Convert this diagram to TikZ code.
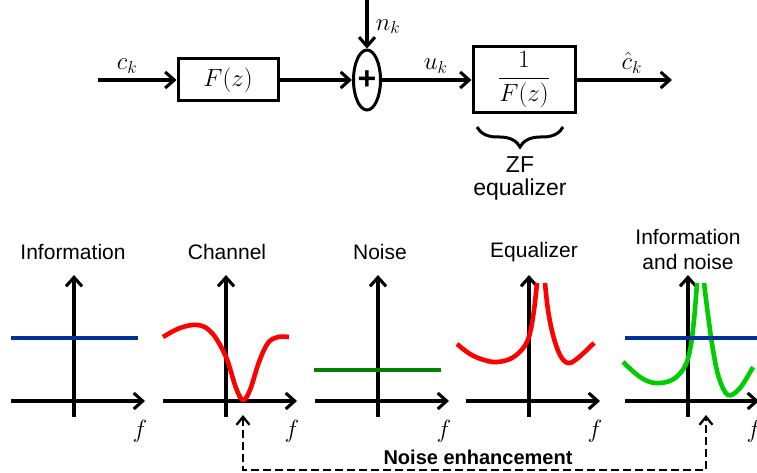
\documentclass[tikz,border=0pt]{standalone}
\usepackage{fontspec}
\setmainfont{Liberation Sans}
\usetikzlibrary{arrows.meta,shapes.geometric,decorations.pathreplacing}
\definecolor{infoblue}{RGB}{0,51,153}
\definecolor{noisegreen}{RGB}{0,128,0}
\definecolor{sumgreen}{RGB}{0,205,0}

\begin{document}
\begin{tikzpicture}[x=1pt,y=-1pt,font=\fontsize{21}{25}\selectfont,
  blk/.style={draw,line width=3pt,minimum width=100pt,minimum height=42pt,inner sep=0pt},
  mlab/.style={font=\fontsize{25}{28}\selectfont},
  arr/.style={-{Straight Barb[length=9pt,width=16pt]},line width=3.1pt},
  crv/.style={line width=4.6pt,smooth,tension=0.6}]
\useasboundingbox (0,0) rectangle (757,473);
% top chain
\node[blk,mlab] (chan) at (228,80) {$F(z)$};
\node[draw,ellipse,line width=3pt,minimum width=27pt,minimum height=60pt,inner sep=0pt,
  font=\fontsize{32}{32}\selectfont\bfseries] (sum) at (367,80) {+};
\node[blk,mlab,minimum width=102pt,minimum height=66pt] (zf) at (524,80) {$\displaystyle\frac{1}{F(z)}$};
\coordinate (cin) at (98,80);
\coordinate (nin) at (367,0);
\coordinate (cout) at (672,80);
\draw[arr] (cin) -- node[mlab,pos=0.37,above=2pt] (ck) {$c_k$} (chan);
\draw[arr] (chan) -- (sum);
\draw[arr] (nin) -- node[mlab,pos=0.55,right=4pt] (nk) {$n_k$} (sum);
\draw[arr] (sum) -- node[mlab,pos=0.6,above=2pt] (uk) {$u_k$} (zf);
\draw[arr] (zf) -- node[mlab,pos=0.58,above=2pt] (chat) {$\hat{c}_k$} (cout);
\draw[line width=3pt,decorate,decoration={brace,mirror,amplitude=20pt}] (477,127) -- (563,127);
\node[align=center,font=\fontsize{23}{23}\selectfont] (zflab) at (520,178) {ZF\\equalizer};
% spectra
\foreach \px/\tx/\ty/\ttl [count=\i] in {74/73/252/Information,226/227/252/Channel,
    378/380/252/Noise,529/534/252/Equalizer,688/688/249/{Information\\and noise}}{
  \draw[arr] (\px-63,401) -- (\px+71,401);
  \draw[arr] (\px,417) -- (\px,275);
  \node[mlab] (f\i) at (\px+66,431) {$f$};
  \node[align=center] (title\i) at (\tx,\ty) {\ttl};
}
\draw[infoblue,line width=4.2pt] (11,338) -- (138,338);
\draw[red,crv] plot coordinates {(163,337) (180,328) (198,325) (212,333) (226,357)
  (236,388) (243,400) (250,390) (259,362) (268,343) (278,337) (289,337)};
\draw[noisegreen,line width=3.4pt] (314,370) -- (441,370);
\draw[red,crv] plot coordinates {(457,344) (470,354) (484,360) (497,362) (512,358)
  (524,347) (530,333) (534,310) (537,283)};
\draw[red,crv] plot coordinates {(545,283) (548,310) (553,335) (560,355) (568,363)
  (578,358) (594,343)};
\draw[sumgreen,crv] plot coordinates {(623,362) (640,377) (655,383) (672,380) (684,368)
  (690,350) (694,320) (697,283)};
\draw[sumgreen,crv] plot coordinates {(704,283) (708,315) (713,350) (719,378) (728,395)
  (740,388) (753,367)};
\draw[infoblue,line width=4.2pt] (625,338) -- (757,338);
% noise enhancement
\coordinate (dip) at (243,415);
\coordinate (boost) at (706,415);
\draw[{Straight Barb[length=8pt,width=13pt]}-{Straight Barb[length=8pt,width=13pt]},
  line width=2.3pt,dash pattern=on 8pt off 4pt] (dip) -- ++(0,55) -| (boost);
\node[font=\fontsize{20}{24}\selectfont\bfseries] (enh) at (478,457) {Noise enhancement};
\end{tikzpicture}
\end{document}
